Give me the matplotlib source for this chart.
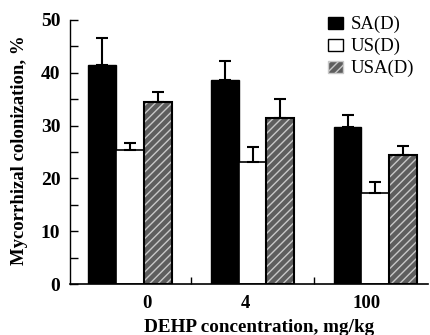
import matplotlib
matplotlib.use("Agg")
import matplotlib.pyplot as plt
from matplotlib.patches import Patch

# values
doses = ["0", "4", "100"]
series = ["SA(D)", "US(D)", "USA(D)"]
sa = [41.5, 38.6, 29.7]
sa_err = [5.0, 3.7, 2.4]
us = [25.3, 23.2, 17.2]
us_err = [1.5, 2.7, 2.2]
usa = [34.4, 31.5, 24.4]
usa_err = [2.0, 3.5, 1.8]

plt.rcParams['font.family'] = ['Liberation Serif', 'DejaVu Serif']

fig = plt.figure(figsize=(4.3, 3.35), dpi=100)
ax = fig.add_axes([0.1628, 0.1522, 0.8325, 0.7881])

w = 0.226
x = list(range(len(doses)))
xs = [i - w for i in x]
xu = list(x)
xa = [i + w for i in x]

ax.bar(xs, sa, w, color='black', edgecolor='black', linewidth=1, zorder=2)
ax.bar(xu, us, w, color='white', edgecolor='black', linewidth=1.2, zorder=2)
# textured bars: gray fill with light hatch, then black outline
ax.bar(xa, usa, w, color='#5e5e5e', edgecolor='#c8c8c8', hatch='////',
       linewidth=0, zorder=2)
ax.bar(xa, usa, w, fill=False, edgecolor='black', linewidth=1.5, zorder=3)

for xx, v, e in [(xs, sa, sa_err), (xu, us, us_err), (xa, usa, usa_err)]:
    ax.errorbar(xx, v, yerr=[[0] * len(v), e], fmt='none', ecolor='black',
                elinewidth=1.5, capsize=4.6, capthick=1.5, zorder=4)

ax.set_xlim(-0.489, 2.43)
ax.set_ylim(0, 50)
ax.spines['top'].set_visible(False)
ax.spines['right'].set_visible(False)
ax.spines['left'].set_linewidth(1.0)
ax.spines['bottom'].set_linewidth(1.2)

ax.set_yticks([0, 10, 20, 30, 40, 50])
ax.set_yticks([5, 15, 25, 35, 45], minor=True)
ax.tick_params(axis='y', which='both', direction='in', length=6, width=1,
               labelsize=14, pad=7)
for t in ax.get_yticklabels():
    t.set_fontweight('bold')

ax.set_xticks([0.139, 0.945, 1.927])
ax.set_xticklabels(doses, fontsize=13.5, fontweight='bold')
ax.set_xticks([0.5, 1.5], minor=True)
ax.tick_params(axis='x', which='major', length=0, pad=8)
ax.tick_params(axis='x', which='minor', direction='in', length=5, width=1)

fig.text(0.602, 0.008, "DEHP concentration, mg/kg", ha='center',
         va='baseline', fontsize=13.8, fontweight='bold')
fig.text(0.0465, 0.551, "Mycorrhizal colonization, %", ha='center',
         va='center', rotation=90, fontsize=13.5, fontweight='bold')

handles = [Patch(facecolor='black', edgecolor='black'),
           Patch(facecolor='white', edgecolor='black'),
           Patch(facecolor='#5e5e5e', edgecolor='#c8c8c8', hatch='////')]
ax.legend(handles, series, loc='upper left', bbox_to_anchor=(0.74, 0.98),
          bbox_transform=fig.transFigure, frameon=False, fontsize=13.5,
          handlelength=0.8, handleheight=0.64, handletextpad=0.45,
          labelspacing=0.25, borderpad=0.0)

fig.savefig("out.png", dpi=100)
